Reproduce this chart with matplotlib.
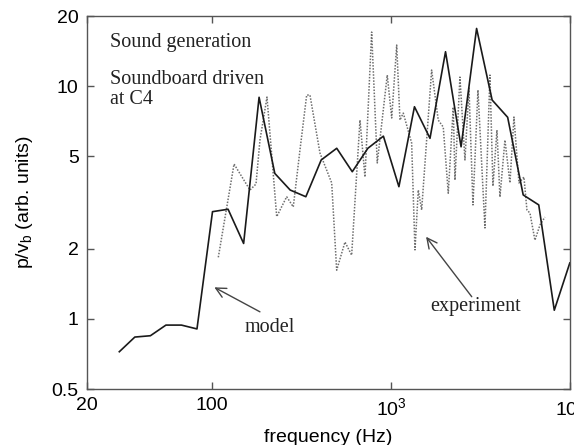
import numpy as np
import matplotlib
matplotlib.use('Agg')
import matplotlib.pyplot as plt
from matplotlib.ticker import FixedLocator, FixedFormatter, NullLocator

# model (solid line)
model_f = [30.3, 37.0, 45.2, 55.2, 67.4, 82.3, 100.5, 122.8, 150, 183,
           224, 273, 334, 407, 497, 607, 742, 906, 1106, 1351,
           1650, 2015, 2461, 3005, 3670, 4482, 5474, 6686, 8165, 9970]
model_p = [0.723, 0.836, 0.847, 0.941, 0.941, 0.906, 2.89, 2.96, 2.11, 8.96,
           4.22, 3.58, 3.35, 4.82, 5.41, 4.29, 5.41, 6.10, 3.70, 8.16,
           5.97, 14.06, 5.49, 17.7, 8.72, 7.35, 3.41, 3.09, 1.09, 1.74]

# experiment (dotted line)
exp_f = [108.3, 132.6, 162.8, 175.9, 185.1, 202.6, 229.6, 261.0, 284.1, 309.7,
         337.6, 352.2, 400.6, 465.8, 496.6, 552.6, 602.2, 670.3, 714.8, 778.9,
         837.1, 952.1, 1008, 1075, 1121, 1170, 1303, 1360, 1419, 1482,
         1685, 1835, 1957, 2087, 2226, 2275, 2425, 2587, 2724, 2868,
         3058, 3346, 3568, 3709, 3905, 4058, 4328, 4616, 4859, 5183,
         5526, 5743, 5970, 6366, 6788, 7238]
exp_p = [1.84, 4.63, 3.58, 3.80, 5.87, 8.98, 2.75, 3.35, 3.03, 5.32,
         9.16, 9.16, 5.16, 3.84, 1.62, 2.14, 1.88, 7.15, 4.07, 17.08,
         4.68, 11.16, 7.30, 15.02, 7.15, 7.66, 5.70, 1.98, 3.58, 2.94,
         11.73, 7.15, 6.67, 3.47, 8.13, 3.95, 10.94, 4.82, 9.82, 3.09,
         9.63, 2.46, 11.16, 3.72, 6.48, 3.34, 5.87, 3.84, 7.37, 3.84,
         4.07, 2.94, 2.85, 2.18, 2.53, 2.74]

xticks = [20, 100, 1000, 10000]
xticklabels = ['20', '100', '$10^3$', '$10^4$']
yticks = [0.5, 1, 2, 5, 10, 20]
yticklabels = ['0.5', '1', '2', '5', '10', '20']

plt.rcParams['font.family'] = ['Liberation Sans', 'DejaVu Sans']
plt.rcParams['mathtext.fontset'] = 'custom'
plt.rcParams['mathtext.rm'] = 'Liberation Sans'
plt.rcParams['mathtext.it'] = 'Liberation Sans'

fig = plt.figure(figsize=(5.74, 4.45), dpi=100)
ax = fig.add_axes([0.1516, 0.1258, 0.8415, 0.838])

ax.plot(exp_f, exp_p, color='#6e6e6e', linestyle=(0, (1, 1)), linewidth=1.1)
ax.plot(model_f, model_p, color='#1a1a1a', linestyle='-', linewidth=1.2)

ax.set_xscale('log')
ax.set_yscale('log')
ax.set_xlim(20, 10000)
ax.set_ylim(0.5, 20)

ax.xaxis.set_major_locator(FixedLocator(xticks))
ax.xaxis.set_major_formatter(FixedFormatter(xticklabels))
ax.xaxis.set_minor_locator(NullLocator())
ax.yaxis.set_major_locator(FixedLocator(yticks))
ax.yaxis.set_major_formatter(FixedFormatter(yticklabels))
ax.yaxis.set_minor_locator(NullLocator())

ax.tick_params(direction='in', length=5, width=1, color='#555555',
               top=True, right=True, labelsize=14, pad=6)
for s in ax.spines.values():
    s.set_color('#555555')
    s.set_linewidth(1.0)

ax.set_xlabel('frequency (Hz)', fontsize=14, labelpad=7)
ax.set_ylabel('p/v$_b$ (arb. units)', fontsize=14, labelpad=12)

serif = ['Liberation Serif', 'DejaVu Serif']
ax.text(0.0476, 0.928, 'Sound generation', transform=ax.transAxes,
        family=serif, fontsize=14.5, va='center', color='#222222')
ax.text(0.0476, 0.855, 'Soundboard driven\nat C4', transform=ax.transAxes,
        family=serif, fontsize=14.5, va='top', color='#222222', linespacing=1.05)
ax.text(0.327, 0.166, 'model', transform=ax.transAxes,
        family=serif, fontsize=14.5, va='center', color='#222222')
ax.text(0.710, 0.221, 'experiment', transform=ax.transAxes,
        family=serif, fontsize=14.5, va='center', color='#222222')

ax.annotate('', xy=(0.2636, 0.2727), xytext=(0.358, 0.207),
            xycoords='axes fraction', textcoords='axes fraction',
            arrowprops=dict(arrowstyle='->', color='#444444', lw=1.0,
                            mutation_scale=18, shrinkA=0, shrinkB=0))
ax.annotate('', xy=(0.7019, 0.4083), xytext=(0.7965, 0.2475),
            xycoords='axes fraction', textcoords='axes fraction',
            arrowprops=dict(arrowstyle='->', color='#444444', lw=1.0,
                            mutation_scale=18, shrinkA=0, shrinkB=0))

fig.savefig('out.png', dpi=100)
